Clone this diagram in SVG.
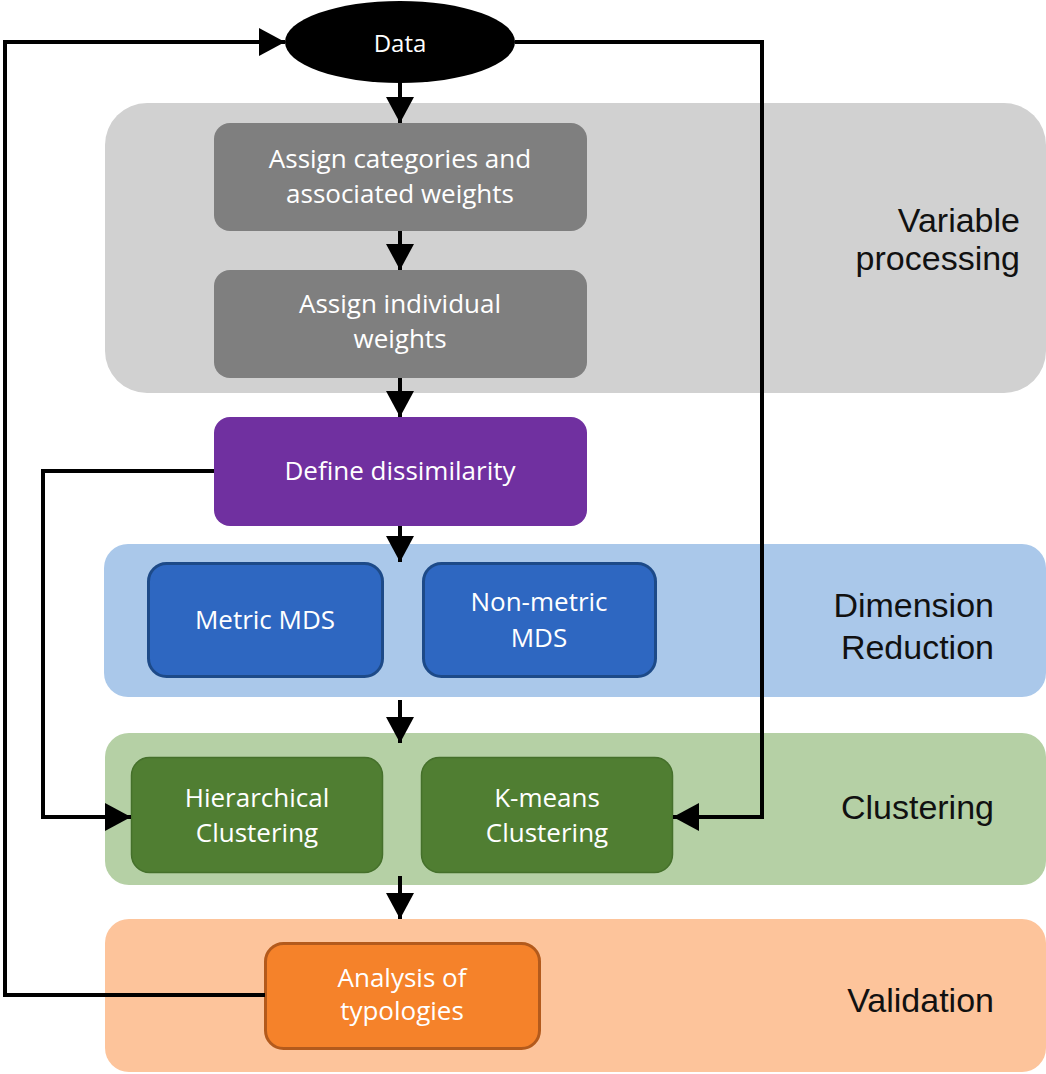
<svg xmlns="http://www.w3.org/2000/svg" width="1046" height="1074" viewBox="0 0 1046 1074">
<defs>
<style>
.band-label{font-family:"Liberation Sans",Arial,sans-serif;font-size:34px;fill:#111;text-anchor:end}
.box-text{font-family:"Open Sans","Liberation Sans",sans-serif;font-size:26px;fill:#fff;text-anchor:middle}
.conn{fill:none;stroke:#000;stroke-width:4;stroke-linejoin:miter}
</style>
<marker id="ah" viewBox="0 0 26 28" refX="26" refY="14" markerWidth="26" markerHeight="28" markerUnits="userSpaceOnUse" orient="auto">
<path d="M0,0 L26,14 L0,28 Z" fill="#000"/>
</marker>
</defs>
<rect width="1046" height="1074" fill="#fff"/>
<g id="bands">
<g id="band-variable">
<rect x="105" y="103" width="941" height="290" rx="42" fill="#d1d1d1"/>
<text class="band-label" x="1020" y="232">Variable</text>
<text class="band-label" x="1020" y="270">processing</text>
</g>
<g id="band-dimension">
<rect x="104" y="544" width="942" height="153" rx="24" fill="#aac8ea"/>
<text class="band-label" x="994" y="617">Dimension</text>
<text class="band-label" x="994" y="659">Reduction</text>
</g>
<g id="band-clustering">
<rect x="105" y="733" width="941" height="152" rx="24" fill="#b5d0a5"/>
<text class="band-label" x="994" y="819">Clustering</text>
</g>
<g id="band-validation">
<rect x="105" y="919" width="941" height="153" rx="24" fill="#fdc49b"/>
<text class="band-label" x="994" y="1012">Validation</text>
</g>
</g>
<g id="nodes">
<g id="data">
<ellipse cx="400" cy="42" rx="115" ry="41" fill="#000"/>
<text class="box-text" x="400" y="52" style="font-size:24px">Data</text>
</g>
<g id="assign-categories">
<rect x="214" y="123" width="373" height="108" rx="16" fill="#7f7f7f"/>
<text class="box-text" x="400" y="168">Assign categories and</text>
<text class="box-text" x="400" y="203">associated weights</text>
</g>
<g id="assign-individual">
<rect x="214" y="270" width="373" height="108" rx="16" fill="#7f7f7f"/>
<text class="box-text" x="400" y="313">Assign individual</text>
<text class="box-text" x="400" y="348">weights</text>
</g>
<g id="dissimilarity">
<rect x="214" y="417" width="373" height="109" rx="16" fill="#7030a0"/>
<text class="box-text" x="400" y="480">Define dissimilarity</text>
</g>
<g id="metric-mds">
<rect x="148.5" y="563.5" width="234" height="113" rx="18" fill="#2e67c1" stroke="#1d4a88" stroke-width="3"/>
<text class="box-text" x="265" y="629">Metric MDS</text>
</g>
<g id="nonmetric-mds">
<rect x="423.5" y="563.5" width="232" height="113" rx="18" fill="#2e67c1" stroke="#1d4a88" stroke-width="3"/>
<text class="box-text" x="539" y="611">Non-metric</text>
<text class="box-text" x="539" y="647">MDS</text>
</g>
<g id="hierarchical">
<rect x="131.5" y="757.5" width="251" height="115" rx="18" fill="#507e32" stroke="#45702b" stroke-width="1.5"/>
<text class="box-text" x="257" y="807">Hierarchical</text>
<text class="box-text" x="257" y="842">Clustering</text>
</g>
<g id="kmeans">
<rect x="421.5" y="757.5" width="251" height="115" rx="18" fill="#507e32" stroke="#45702b" stroke-width="1.5"/>
<text class="box-text" x="547" y="807">K-means</text>
<text class="box-text" x="547" y="842">Clustering</text>
</g>
<g id="analysis">
<rect x="265.5" y="943.5" width="274" height="105" rx="18" fill="#f5822a" stroke="#b35a1c" stroke-width="3"/>
<text class="box-text" x="402" y="987">Analysis of</text>
<text class="box-text" x="402" y="1020">typologies</text>
</g>
</g>
<g id="connectors">
<path class="conn" d="M400,83 L400,123" marker-end="url(#ah)"/>
<path class="conn" d="M400,231 L400,270" marker-end="url(#ah)"/>
<path class="conn" d="M400,378 L400,417" marker-end="url(#ah)"/>
<path class="conn" d="M400,526 L400,562" marker-end="url(#ah)"/>
<path class="conn" d="M400,700 L400,743" marker-end="url(#ah)"/>
<path class="conn" d="M400,876 L400,919" marker-end="url(#ah)"/>
<path class="conn" d="M214,471 L43,471 L43,817 L131,817" marker-end="url(#ah)"/>
<path class="conn" d="M515,42 L762,42 L762,817 L673,817" marker-end="url(#ah)"/>
<path class="conn" d="M265,995 L5,995 L5,42 L285,42" marker-end="url(#ah)"/>
</g>
</svg>
